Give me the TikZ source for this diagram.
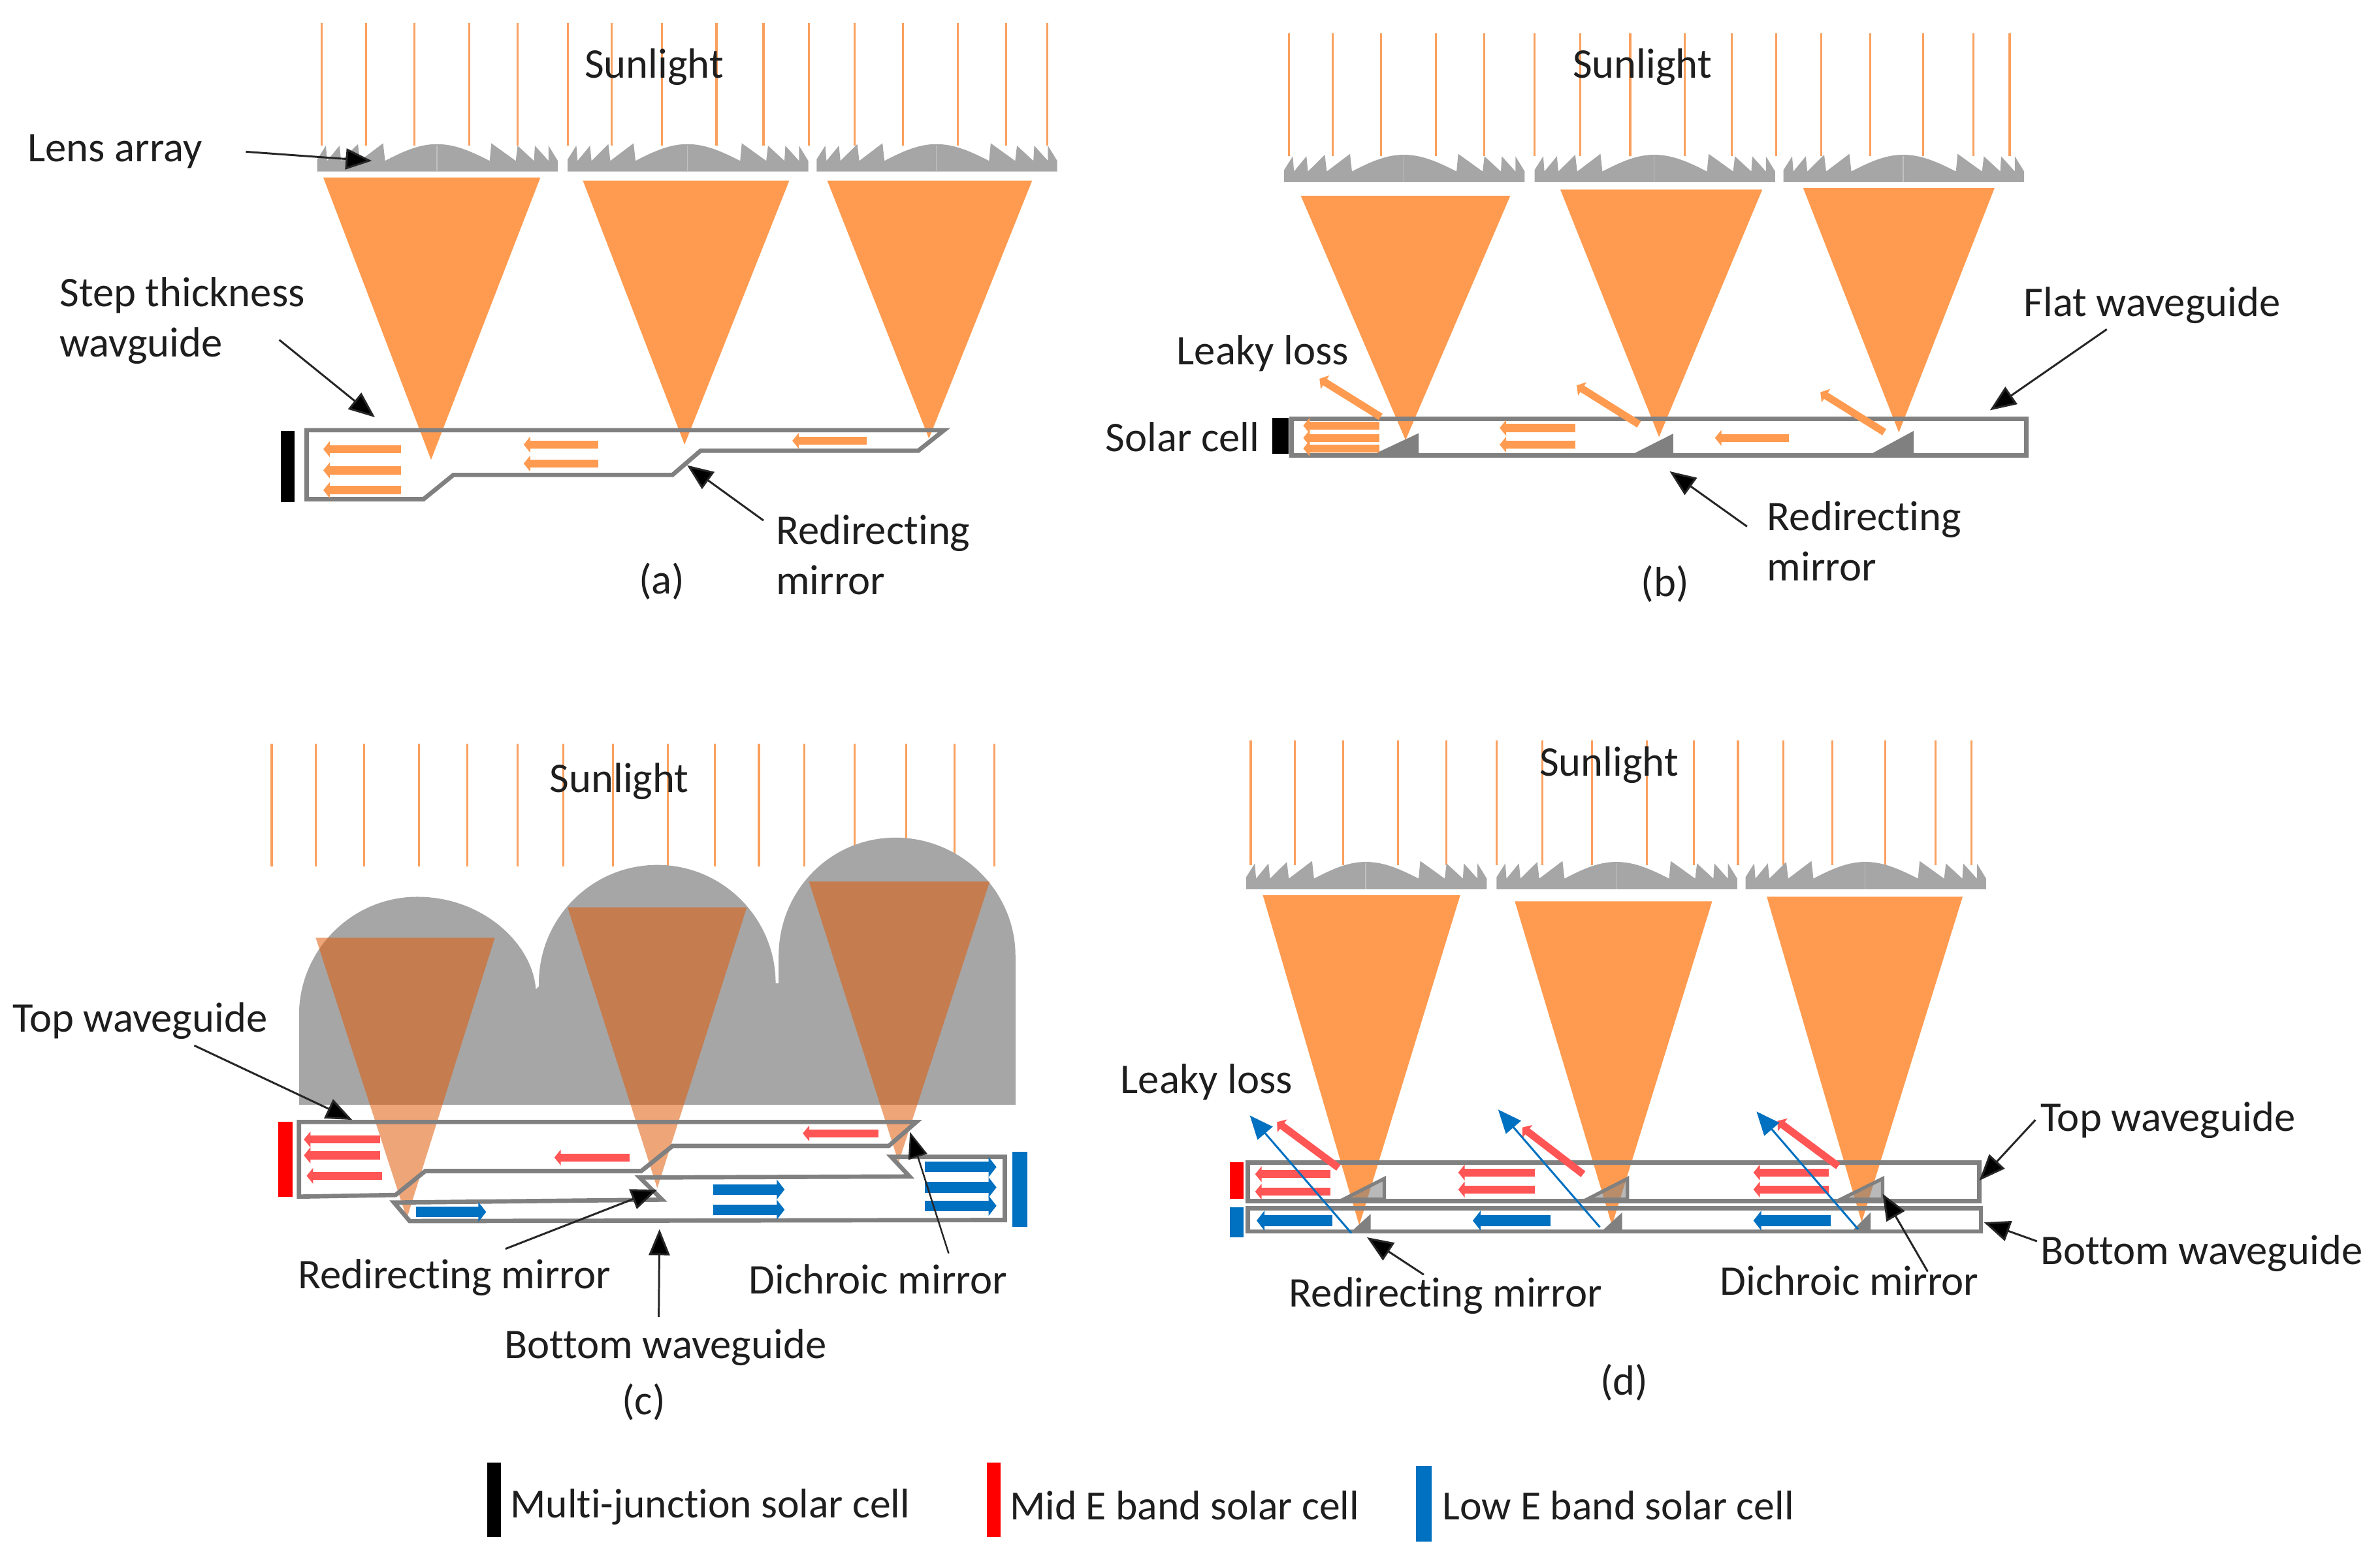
\documentclass[tikz,border=0pt]{standalone}
\usepackage{fontspec}
\setmainfont{Carlito}[Ligatures=NoCommon]
\usetikzlibrary{arrows.meta}
\definecolor{orng}{RGB}{255,155,80}
\definecolor{ray}{RGB}{250,160,95}
\definecolor{wg}{RGB}{128,128,128}
\definecolor{lensg}{RGB}{166,166,166}
\definecolor{redf}{RGB}{255,85,85}
\definecolor{bluef}{RGB}{0,112,192}
\definecolor{txt}{RGB}{30,30,30}
\tikzset{
  lbl/.style={inner sep=0pt,text=txt,font=\fontsize{18.4}{21.9}\selectfont,anchor=west,align=left},
  ctr/.style={lbl,anchor=center,align=center},
  lead/.style={draw=black!85,line width=.85pt,-{Triangle[length=.40cm,width=.32cm,fill=black]}},
  thinlead/.style={draw=black!85,line width=.7pt,-{Triangle[length=.40cm,width=.30cm,fill=black]}},
  wguide/.style={draw=wg,line width=1.9pt,line join=miter},
  sunray/.style={draw=ray,line width=.9pt},
  flowO/.style={draw=orng,line width=3.5pt,-{Triangle[length=.10cm,width=.24cm,fill=orng]}},
  flowR/.style={draw=redf,line width=3.5pt,-{Triangle[length=.10cm,width=.24cm,fill=redf]}},
  flowB/.style={draw=bluef,line width=4.6pt,-{Triangle[length=.12cm,width=.30cm,fill=bluef]}},
  leakB/.style={draw=bluef,line width=.85pt,-{Triangle[length=.36cm,width=.30cm,fill=bluef]}},
  cone/.style={fill=orng},
  mirror/.style={fill=wg},
}
\newcommand{\lensunit}[2]{%
  \begin{scope}[shift={(#1,#2)}]
    \fill[lensg] (0,0) -- (0,-8) -- (5.7,-17) -- (6.5,-7) -- (14.7,-17) -- (15.7,-7) -- (26.8,-18) -- (28.1,-7)
      -- (43.4,-18.6) -- (44.7,-7) .. controls (58,-14) and (68,-18) .. (78.8,-18)
      .. controls (90,-18) and (100,-14) .. (113.6,-7) -- (114.7,-18.6) -- (130.8,-7) -- (132,-17)
      -- (142.8,-7) -- (143.4,-17) -- (152.4,-7) -- (152.4,-17) -- (158.5,-7) -- (158.5,0) -- cycle;
    \draw[lensg!70!white,line width=.4pt] (78.8,-17) -- (78.8,0);
  \end{scope}}
\newcommand{\rays}[4]{\foreach \rx in {#2}{\draw[sunray] ({\rx+#1},#3) -- ({\rx+#1},#4);}}
\begin{document}
\begin{tikzpicture}[x=0.02324cm,y=-0.02324cm]
\useasboundingbox (0,0) rectangle (1568,1024.1);

%%% (a)
\rays{0}{212,241,273,309,341,374,403,436,472,503,533,563,595,631,663,690}{15}{96}
\lensunit{209}{113}\lensunit{374}{113}\lensunit{538}{113}
\fill[cone] (213,117) -- (356,117) -- (284,303) -- cycle;
\fill[cone] (384,119) -- (520,119) -- (451,293) -- cycle;
\fill[cone] (545,119) -- (680,119) -- (612,289) -- cycle;
\draw[wguide] (202,283.5) -- (622,283.5) -- (605,297) -- (461.6,297) -- (443,313) -- (298.7,313) -- (279,329) -- (202,329) -- cycle;
\fill[black] (185,284) rectangle (194,331);
\foreach \y in {296,310,323}{\draw[flowO] (264,\y) -- (213,\y);}
\foreach \y in {293,305.5}{\draw[flowO] (394,\y) -- (345,\y);}
\draw[flowO] (571,290.5) -- (522,290.5);
\node[ctr] (sunA) at (431,44) {Sunlight};
\node[lbl] (lensL) at (18,100) {Lens array};
\node[lbl] (stepL) at (39,211.5) {Step thickness\\wavguide};
\node[lbl] (redirA) at (511,365.5) {Redirecting\\mirror};
\node[ctr] (capA) at (436,383) {(a)};
\coordinate (lensT) at (162,100); \coordinate (lensH) at (245,106);
\coordinate (stepT) at (184,224); \coordinate (stepH) at (247,275);
\coordinate (redirAT) at (503,343); \coordinate (redirAH) at (452.7,306.6);
\draw[lead] (lensT) -- (lensH);
\draw[lead] (stepT) -- (stepH);
\draw[lead] (redirAT) -- (redirAH);

%%% (b)
\rays{637}{212,241,273,309,341,374,404,437,473,504,533,563,595,630,663,687}{22}{103}
\lensunit{846}{120}\lensunit{1011}{120}\lensunit{1175}{120}
\fill[cone] (857,129) -- (995,129) -- (926,290) -- cycle;
\fill[cone] (1028,125) -- (1161,125) -- (1093,288) -- cycle;
\fill[cone] (1188,124) -- (1314,124) -- (1251,285) -- cycle;
\draw[wguide] (851,276) rectangle (1335,300);
\fill[mirror] (934.6,285.5) -- (934.6,301.3) -- (903,301.3) -- (908.6,297.7) -- cycle;
\fill[mirror] (1102.3,285.8) -- (1102.3,299) -- (1076.2,299) -- cycle;
\fill[mirror] (1260.7,284) -- (1260.7,299) -- (1233,299) -- cycle;
\fill[black] (838.3,275.5) rectangle (849,299);
\foreach \y in {280.5,288.6,295.5}{\draw[flowO] (908.6,\y) -- (858.6,\y);}
\foreach \y in {282,293}{\draw[flowO] (1038,\y) -- (988,\y);}
\draw[flowO] (1178.6,288.6) -- (1129.8,288.6);
\draw[flowO,line width=3.2pt] (909.6,274.7) -- (869.3,249.6);
\draw[flowO,line width=3.2pt] (1079.8,279.7) -- (1038.8,254);
\draw[flowO,line width=3.2pt] (1241.4,284.8) -- (1199.3,258.5);
\node[ctr] (sunB) at (1082,44) {Sunlight};
\node[lbl] (flatL) at (1333,201) {Flat waveguide};
\node[lbl] (leakyB) at (775,233) {Leaky loss};
\node[lbl] (cellB) at (728,288) {Solar cell};
\node[lbl] (redirB) at (1164,356.5) {Redirecting\\mirror};
\node[ctr] (capB) at (1097,385) {(b)};
\coordinate (flatT) at (1388,217); \coordinate (flatH) at (1311,270.4);
\coordinate (redirBT) at (1151,347); \coordinate (redirBH) at (1100,310.6);
\draw[lead] (flatT) -- (flatH);
\draw[lead] (redirBT) -- (redirBH);

%%% (c)
\rays{-33}{212,241,273,309,341,374,404,437,473,504,533,563,596,630,662,688}{490}{571}
\fill[lensg] (197,728) -- (197,669) .. controls (197,626) and (232,591) .. (275,591)
  .. controls (318,591) and (351,622) .. (353,652) -- (355,650) -- (355,648)
  .. controls (355,605) and (390,570) .. (433,570) .. controls (476,570) and (511,605) .. (511,648)
  -- (513,648) -- (513,630) .. controls (513,587) and (547,552) .. (590,552)
  .. controls (633,552) and (669,587) .. (669,630) -- (669,728) -- cycle;
\begin{scope}[fill opacity=.55]
\fill[fill={rgb,255:red,224;green,91;blue,9}] (208,618) -- (326,618) -- (268,803) -- cycle;
\fill[fill={rgb,255:red,224;green,91;blue,9}] (374,598) -- (492,598) -- (433,783) -- cycle;
\fill[fill={rgb,255:red,224;green,91;blue,9}] (533,581) -- (652,581) -- (592,766) -- cycle;
\end{scope}
\draw[wguide] (197,739.4) -- (603.7,739.4) -- (585.5,755.2) -- (443.1,755.2) -- (422.5,771.7) -- (280.2,771.7) -- (260.6,787.5) -- (197,788.6) -- cycle;
\draw[wguide] (259.6,792.5) -- (436.2,790.6) -- (421.5,776) -- (599.2,775.3) -- (587.2,762.4) -- (662,762.4) -- (662,804) -- (269.9,804.7) -- cycle;
\fill[red] (183.4,739.4) rectangle (192.7,788.6);
\fill[bluef] (666.8,759.2) rectangle (677,808.7);
\draw[flowR] (250.3,750.9) -- (200.2,750.9);
\draw[flowR] (250.3,761.4) -- (200.2,761.4);
\draw[flowR] (251.7,774.9) -- (202,774.9);
\draw[flowR] (415,762.8) -- (365.2,762.8);
\draw[flowR] (578.6,746.9) -- (528.9,746.9);
\draw[flowB] (274.3,798.7) -- (320.3,798.7);
\draw[flowB] (469.9,783.9) -- (516.9,783.9);
\draw[flowB] (469.9,797.2) -- (516.9,797.2);
\draw[flowB] (609.5,769.1) -- (656.5,769.1);
\draw[flowB] (609.5,782.5) -- (656.5,782.5);
\draw[flowB] (609.5,794.6) -- (656.5,794.6);
\node[ctr] (sunC) at (408,515) {Sunlight};
\node[lbl] (topC) at (8,673) {Top waveguide};
\node[lbl] (redirC) at (196,842) {Redirecting mirror};
\node[lbl] (botC) at (332,888) {Bottom waveguide};
\node[lbl] (dichC) at (493,843) {Dichroic mirror};
\node[ctr] (capC) at (424,924) {(c)};
\coordinate (topCT) at (128,689); \coordinate (topCH) at (232,738);
\coordinate (redirCT) at (333,823); \coordinate (redirCH) at (433,784);
\coordinate (botCT) at (434,868); \coordinate (botCH) at (434.5,810);
\coordinate (dichCT) at (625,826); \coordinate (dichCH) at (599.5,746);
\draw[lead] (topCT) -- (topCH);
\draw[lead] (redirCT) -- (redirCH);
\draw[lead] (botCT) -- (botCH);
\draw[thinlead] (dichCT) -- (dichCH);

%%% (d)
\rays{612}{212,241,273,309,341,374,404,437,473,504,533,563,595,630,663,687}{488}{570}
\lensunit{821}{586}\lensunit{986}{586}\lensunit{1150}{586}
\fill[cone] (832,590) -- (962,590) -- (895.5,807.5) -- cycle;
\fill[cone] (998,594) -- (1128,594) -- (1062,807.5) -- cycle;
\fill[cone] (1164,591) -- (1293,591) -- (1226.5,805.4) -- cycle;
\draw[wguide] (822,766) rectangle (1304,791.5);
\draw[wguide] (822,796.4) rectangle (1305,811.6);
\foreach \ax/\bx in {912/885.2,1072.2/1045.7,1240.3/1212.8}{
  \path[fill=wg,fill opacity=.55,draw=wg,line width=1.5pt,line join=miter] (\ax,776.7) -- (\ax,790.3) -- (\bx,790.3) -- cycle;}
\fill[mirror] (903,800) -- (903,811.6) -- (890.3,811.6) -- cycle;
\fill[mirror] (1068.7,799) -- (1068.7,811.6) -- (1055,811.6) -- cycle;
\fill[mirror] (1232.4,799) -- (1232.4,811.6) -- (1219.7,811.6) -- cycle;
\fill[red] (810.4,766) rectangle (819.3,790);
\fill[bluef] (810.4,795.4) rectangle (819.3,815.4);
\foreach \y in {773.8,785.3}{\draw[flowR] (876.6,\y) -- (826.9,\y);}
\foreach \y in {772.7,783.9}{\draw[flowR] (1011,\y) -- (960.7,\y);\draw[flowR] (1204.9,\y) -- (1155.2,\y);}
\draw[flowB] (877.6,804.4) -- (827.9,804.4);
\draw[flowB] (1021.4,804.4) -- (970.3,804.4);
\draw[flowB] (1206,804.4) -- (1155.2,804.4);
\draw[flowR,line width=3.2pt] (881.8,769.5) -- (841.3,739.4);
\draw[flowR,line width=3.2pt] (1043,773.8) -- (1002.9,743);
\draw[flowR,line width=3.2pt] (1211,768.5) -- (1171,738.7);
\draw[leakB] (890.3,812.6) -- (823.4,735.1);
\draw[leakB] (1054,808.7) -- (987,731.2);
\draw[leakB] (1224.1,810) -- (1157.2,732.5);
\node[ctr] (sunD) at (1060,504) {Sunlight};
\node[lbl] (leakyD) at (738,713) {Leaky loss};
\node[lbl] (topD) at (1344,738) {Top waveguide};
\node[lbl] (botD) at (1344,826) {Bottom waveguide};
\node[lbl] (redirD) at (849,854) {Redirecting mirror};
\node[lbl] (dichD) at (1133,844) {Dichroic mirror};
\node[ctr] (capD) at (1070,911) {(d)};
\coordinate (topDT) at (1341,738); \coordinate (topDH) at (1304,778);
\coordinate (botDT) at (1342,818); \coordinate (botDH) at (1307,805.5);
\coordinate (redirDT) at (938,840); \coordinate (redirDH) at (900.6,815.4);
\coordinate (dichDT) at (1270,838); \coordinate (dichDH) at (1240.3,786.7);
\draw[lead] (topDT) -- (topDH);
\draw[lead] (botDT) -- (botDH);
\draw[lead] (redirDT) -- (redirDH);
\draw[lead] (dichDT) -- (dichDH);

%%% legend
\fill[black] (321,964) rectangle (330,1013);
\node[lbl,font=\fontsize{18.1}{21.9}\selectfont] (legA) at (336,993) {Multi-junction solar cell};
\fill[red] (650,964) rectangle (659,1013);
\node[lbl,font=\fontsize{18.1}{21.9}\selectfont] (legB) at (665,992) {Mid E band solar cell};
\fill[bluef] (933,966) rectangle (943,1016);
\node[lbl,font=\fontsize{18.1}{21.9}\selectfont] (legC) at (950,992) {Low E band solar cell};
\end{tikzpicture}
\end{document}
